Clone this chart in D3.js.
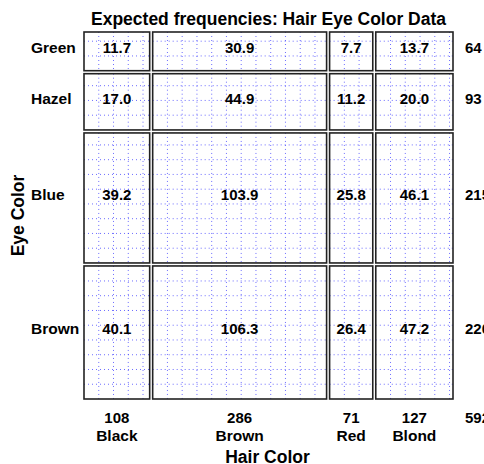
<!DOCTYPE html>
<html>
<head>
<meta charset="utf-8">
<script src="https://cdn.jsdelivr.net/npm/d3@7"></script>
<style>
  body { margin: 0; background: #fff; }
  text { font-family: "Liberation Sans", Arial, sans-serif; font-weight: bold; fill: #000; }
</style>
</head>
<body>
<script>
// Hair Eye Color data, expected frequencies
var hairColors = ["Black", "Brown", "Red", "Blond"];
var hairTotals = [108, 286, 71, 127];
var eyeColors = ["Green", "Hazel", "Blue", "Brown"];
var eyeTotals = [64, 93, 215, 220];
var grandTotal = 592;
var expected = [
  [11.7, 30.9, 7.7, 13.7],
  [17.0, 44.9, 11.2, 20.0],
  [39.2, 103.9, 25.8, 46.1],
  [40.1, 106.3, 26.4, 47.2]
];

var width = 484, height = 464;
var plotLeft = 84, plotTop = 32, gap = 3;
var W = 360, H = 358;

var svg = d3.select("body").append("svg")
  .attr("width", width)
  .attr("height", height);

var xScale = d3.scaleLinear().domain([0, grandTotal]).range([0, W]);
var yScale = d3.scaleLinear().domain([0, grandTotal]).range([0, H]);

// cumulative offsets
var xCum = [0].concat(Array.from(d3.cumsum(hairTotals)));
var yCum = [0].concat(Array.from(d3.cumsum(eyeTotals)));

var cols = hairColors.map(function(d, j) {
  var x0 = plotLeft + j * gap + xScale(xCum[j]);
  return { name: d, total: hairTotals[j], x0: x0, x1: x0 + xScale(hairTotals[j]) };
});
var rows = eyeColors.map(function(d, i) {
  var y0 = plotTop + i * gap + yScale(yCum[i]);
  return { name: d, total: eyeTotals[i], y0: y0, y1: y0 + yScale(eyeTotals[i]) };
});

var side = Math.sqrt(W * H / grandTotal);

var cells = [];
rows.forEach(function(r, i) {
  cols.forEach(function(c, j) {
    cells.push({ r: r, c: c, value: expected[i][j] });
  });
});

var cellG = svg.selectAll(".cell")
  .data(cells)
  .enter().append("g")
  .attr("class", "cell");

// sieve grid: square side so each cell holds ~expected squares
cellG.each(function(d) {
  var g = d3.select(this);
  var xs = [], ys = [];
  for (var x = d.c.x0 + side; x < d.c.x1 - 0.5; x += side) xs.push(x);
  for (var y = d.r.y1 - side; y > d.r.y0 + 0.5; y -= side) ys.push(y);
  g.selectAll(".vline").data(xs).enter().append("line")
    .attr("x1", function(x) { return x; })
    .attr("x2", function(x) { return x; })
    .attr("y1", d.r.y0)
    .attr("y2", d.r.y1)
    .attr("stroke", "#3c3cff")
    .attr("stroke-opacity", 0.75)
    .attr("stroke-width", 1)
    .attr("stroke-dasharray", "1,3");
  g.selectAll(".hline").data(ys).enter().append("line")
    .attr("y1", function(y) { return y; })
    .attr("y2", function(y) { return y; })
    .attr("x1", d.c.x0)
    .attr("x2", d.c.x1)
    .attr("stroke", "#3c3cff")
    .attr("stroke-opacity", 0.75)
    .attr("stroke-width", 1)
    .attr("stroke-dasharray", "1,3");
});

cellG.append("rect")
  .attr("x", function(d) { return d.c.x0; })
  .attr("y", function(d) { return d.r.y0; })
  .attr("width", function(d) { return d.c.x1 - d.c.x0; })
  .attr("height", function(d) { return d.r.y1 - d.r.y0; })
  .attr("fill", "none")
  .attr("stroke", "#222")
  .attr("stroke-width", 1.6);

cellG.append("text")
  .attr("x", function(d) { return (d.c.x0 + d.c.x1) / 2; })
  .attr("y", function(d) { return (d.r.y0 + d.r.y1) / 2 + 2; })
  .attr("text-anchor", "middle")
  .style("font-size", "15px")
  .text(function(d) { return d.value.toFixed(1); });

// row labels and totals
svg.selectAll(".rowlab")
  .data(rows)
  .enter().append("text")
  .attr("class", "rowlab")
  .attr("x", 31)
  .attr("y", function(d) { return (d.y0 + d.y1) / 2 + 2; })
  .style("font-size", "15.5px")
  .text(function(d) { return d.name; });

svg.selectAll(".rowtot")
  .data(rows)
  .enter().append("text")
  .attr("class", "rowtot")
  .attr("x", 465)
  .attr("y", function(d) { return (d.y0 + d.y1) / 2 + 2; })
  .style("font-size", "15px")
  .text(function(d) { return d.total; });

// column totals and labels
svg.selectAll(".coltot")
  .data(cols)
  .enter().append("text")
  .attr("class", "coltot")
  .attr("x", function(d) { return (d.x0 + d.x1) / 2; })
  .attr("y", 422.5)
  .attr("text-anchor", "middle")
  .style("font-size", "15px")
  .text(function(d) { return d.total; });

svg.selectAll(".collab")
  .data(cols)
  .enter().append("text")
  .attr("class", "collab")
  .attr("x", function(d) { return (d.x0 + d.x1) / 2; })
  .attr("y", 440.5)
  .attr("text-anchor", "middle")
  .style("font-size", "15.5px")
  .text(function(d) { return d.name; });

svg.append("text")
  .attr("x", 465)
  .attr("y", 422.5)
  .style("font-size", "15px")
  .text(grandTotal);

// titles
var midX = plotLeft + (W + 3 * gap) / 2;
svg.append("text")
  .attr("x", midX)
  .attr("y", 25)
  .attr("text-anchor", "middle")
  .style("font-size", "17.5px")
  .text("Expected frequencies: Hair Eye Color Data");

svg.append("text")
  .attr("x", midX - 1)
  .attr("y", 462.5)
  .attr("text-anchor", "middle")
  .style("font-size", "17.5px")
  .text("Hair Color");

svg.append("text")
  .attr("transform", "translate(24," + (plotTop + (H + 3 * gap) / 2) + ") rotate(-90)")
  .attr("text-anchor", "middle")
  .style("font-size", "17.5px")
  .text("Eye Color");
</script>
</body>
</html>
